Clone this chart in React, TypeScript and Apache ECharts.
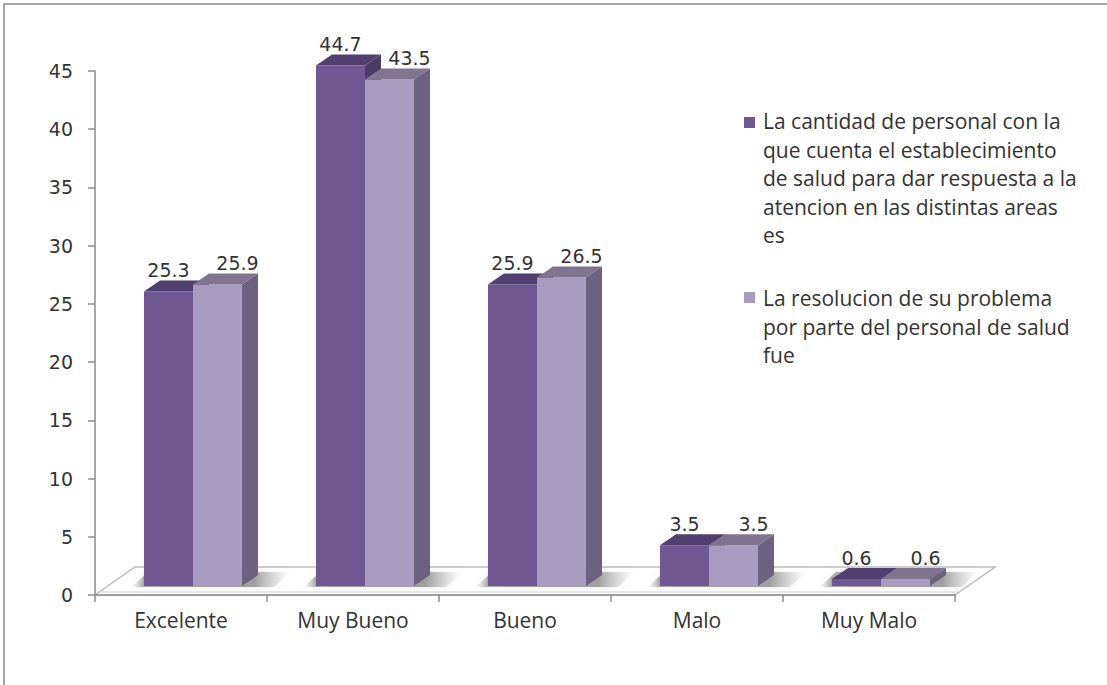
import React, { useEffect, useRef } from "react";
import * as echarts from "echarts";

const categories = ["Excelente", "Muy Bueno", "Bueno", "Malo", "Muy Malo"];
const seriesNames = [
  "La cantidad de personal con la\nque cuenta el establecimiento\nde salud para dar respuesta a la\natencion en las distintas areas\nes",
  "La resolucion de su problema\npor parte del personal de salud\nfue",
];
const personalValues = [25.3, 44.7, 25.9, 3.5, 0.6];
const resolucionValues = [25.9, 43.5, 26.5, 3.5, 0.6];
const yMin = 0;
const yMax = 45;
const yInterval = 5;

const palettes = [
  { front: "#6F5892", top: "#513F6F", side: "#4B3A66", label: 0 },
  { front: "#A99AC0", top: "#807491", side: "#6C6280", label: 20 },
];

const GRID = { left: 95, right: 152, top: 71, bottom: 90 };
const SX = 12;
const SY = -9;
const DX = 16;
const DY = -11;

function makeRenderItem(idx: number) {
  const pal = palettes[idx];
  return (params: any, api: any) => {
    const cat = api.value(0);
    const val = api.value(1);
    const base = api.coord([cat, 0]);
    const topPt = api.coord([cat, val]);
    const catW = api.size([1, 0])[0];
    const bw = catW * 0.285;
    const x0 = base[0] + SX + (idx === 0 ? -bw : 0);
    const x1 = x0 + bw;
    const yb = base[1] + SY;
    const yt = topPt[1] + SY;
    const children: any[] = [];
    if (idx === 0) {
      const pairRight = x1 + bw + DX;
      const L = x0 - 12;
      const R = pairRight + 32;
      const w = R - L;
      children.push({
        type: "polygon",
        shape: {
          points: [
            [L, yb + 1],
            [R - DX, yb + 1],
            [R, yb + DY - 3],
            [L + DX, yb + DY - 3],
          ],
        },
        style: {
          fill: {
            type: "linear",
            x: 0,
            y: 0,
            x2: 1,
            y2: 0,
            colorStops: [
              { offset: 0, color: "rgba(150,150,150,0)" },
              { offset: (x0 - L) / w, color: "rgba(110,110,110,0.55)" },
              { offset: (pairRight - 4 - L) / w, color: "rgba(110,110,110,0.6)" },
              { offset: 1, color: "rgba(170,170,170,0)" },
            ],
          },
          shadowBlur: 6,
          shadowColor: "rgba(140,140,140,0.4)",
        },
        z2: 0,
      });
    }
    children.push(
      { type: "rect", shape: { x: x0, y: yt, width: bw, height: yb - yt }, style: { fill: pal.front }, z2: 5 },
      {
        type: "polygon",
        shape: { points: [[x0, yt], [x0 + DX, yt + DY], [x1 + DX, yt + DY], [x1, yt]] },
        style: { fill: pal.top },
        z2: 5,
      },
      {
        type: "polygon",
        shape: { points: [[x1, yt], [x1 + DX, yt + DY], [x1 + DX, yb + DY], [x1, yb]] },
        style: { fill: pal.side },
        z2: 5,
      },
      {
        type: "text",
        style: {
          text: String(val),
          x: x0 + bw / 2 + pal.label,
          y: yt - 21,
          align: "center",
          verticalAlign: "middle",
          fontFamily: "DejaVu Sans",
          fontSize: 19,
          fill: "#333333",
        },
        z2: 10,
      }
    );
    return { type: "group", children };
  };
}

export default function App() {
  const ref = useRef<HTMLDivElement>(null);
  useEffect(() => {
    if (!ref.current) return;
    const chart = echarts.init(ref.current, null, { renderer: "svg" });
    const W = 1107;
    const H = 685;
    const fl = GRID.left;
    const fr = W - GRID.right;
    const fb = H - GRID.bottom;
    const legendItems = seriesNames.map((name, i) => ({
      type: "group",
      children: [
        { type: "rect", shape: { x: 744, y: i === 0 ? 117 : 292, width: 11, height: 11 }, style: { fill: palettes[i].front } },
        {
          type: "text",
          style: {
            text: name,
            x: 763,
            y: i === 0 ? 107 : 284,
            fontFamily: "Open Sans",
            fontSize: 21,
            lineHeight: 28.5,
            fill: "#333333",
            verticalAlign: "top",
          },
        },
      ],
    }));
    chart.setOption({
      animation: false,
      backgroundColor: "#ffffff",
      grid: GRID,
      xAxis: {
        type: "category",
        data: categories,
        axisLine: { lineStyle: { color: "#8c8c8c", width: 1.5 } },
        axisTick: { show: true, length: 7, lineStyle: { color: "#8c8c8c", width: 1.5 } },
        axisLabel: { fontFamily: "Open Sans", fontSize: 21, color: "#333333", margin: 14 },
      },
      yAxis: {
        type: "value",
        min: yMin,
        max: yMax,
        interval: yInterval,
        axisLine: { show: true, lineStyle: { color: "#8c8c8c", width: 1.5 } },
        axisTick: { show: true, length: 7, lineStyle: { color: "#8c8c8c", width: 1.5 } },
        splitLine: { show: false },
        axisLabel: { fontFamily: "DejaVu Sans", fontSize: 19, color: "#333333", margin: 22 },
      },
      graphic: [
        {
          type: "rect",
          shape: { x: 4, y: 4, width: 1130, height: 720 },
          style: { fill: "none", stroke: "#8a8a8a", lineWidth: 1.5 },
          z: 0,
        },
        {
          type: "polygon",
          shape: { points: [[fl, fb], [fr, fb], [fr + 40, fb - 28], [fl + 40, fb - 28]] },
          style: { fill: "#ffffff", stroke: "#bdbdbd", lineWidth: 1.5 },
          z: 0,
        },
        {
          type: "line",
          shape: { x1: fl + 3, y1: fb - 3, x2: fr + 3, y2: fb - 3 },
          style: { stroke: "#d0d0d0", lineWidth: 1 },
          z: 0,
        },
        ...legendItems,
      ],
      series: [
        {
          type: "custom",
          name: seriesNames[0],
          renderItem: makeRenderItem(0),
          data: personalValues.map((v, i) => [i, v]),
          encode: { x: 0, y: 1 },
          z: 3,
        },
        {
          type: "custom",
          name: seriesNames[1],
          renderItem: makeRenderItem(1),
          data: resolucionValues.map((v, i) => [i, v]),
          encode: { x: 0, y: 1 },
          z: 4,
        },
      ],
    });
    return () => chart.dispose();
  }, []);
  return <div ref={ref} style={{ position: "fixed", left: 0, top: 0, width: 1107, height: 685 }} />;
}
